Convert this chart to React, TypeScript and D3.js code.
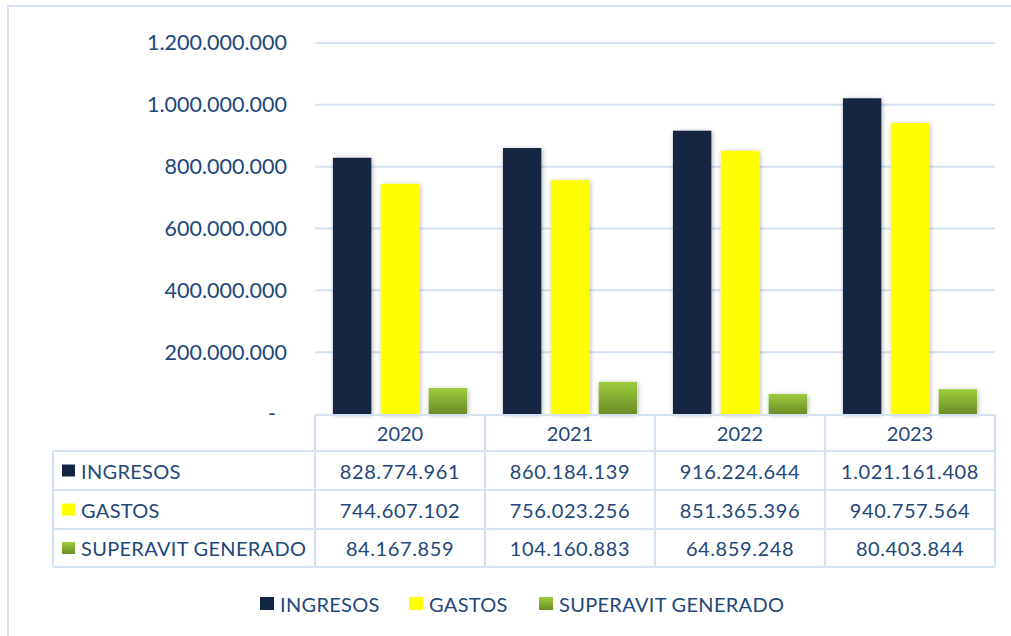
import { useEffect, useRef } from 'react'
import * as d3 from 'd3'

const years = ['2020', '2021', '2022', '2023']
const seriesNames = ['INGRESOS', 'GASTOS', 'SUPERAVIT GENERADO']
const ingresos = [828774961, 860184139, 916224644, 1021161408]
const gastos = [744607102, 756023256, 851365396, 940757564]
const superavit = [84167859, 104160883, 64859248, 80403844]
const yTicks = [0, 200000000, 400000000, 600000000, 800000000, 1000000000, 1200000000]

const W = 1011
const H = 636
const FONT = 'Lato, "Open Sans", sans-serif'
const TEXT = '#23477a'
const GRID = '#d5e2f2'

const fmt = d3.formatLocale({ decimal: ',', thousands: '.', grouping: [3], currency: ['', ''] }).format(',d')

export default function App() {
  const ref = useRef<SVGSVGElement>(null)

  useEffect(() => {
    const el = ref.current
    if (!el) return
    const svg = d3.select(el)
    svg.selectAll('*').remove()

    const series = [ingresos, gastos, superavit]

    const left = 315
    const right = 995
    const top = 43
    const base = 414

    const x = d3.scaleBand<string>().domain(years).range([left, right])
    const xs = d3.scaleBand<string>().domain(seriesNames).range([0, x.bandwidth()])
      .paddingInner(0.198).paddingOuter(0.375)
    const y = d3.scaleLinear().domain([0, 1200000000]).range([base, top])

    // defs
    const defs = svg.append('defs')
    const grad = defs.append('linearGradient').attr('id', 'green').attr('x1', 0).attr('y1', 0).attr('x2', 0).attr('y2', 1)
    grad.append('stop').attr('offset', '0%').attr('stop-color', '#9fcd3e')
    grad.append('stop').attr('offset', '100%').attr('stop-color', '#6b8c25')
    const sh = defs.append('filter').attr('id', 'shadow').attr('x', '-30%').attr('y', '-10%').attr('width', '160%').attr('height', '130%')
    sh.append('feDropShadow').attr('dx', 1).attr('dy', 1).attr('stdDeviation', 2.5)
      .attr('flood-color', '#000').attr('flood-opacity', 0.3)

    const colors = ['#122641', '#ffff00', 'url(#green)']

    // outer border
    svg.append('rect').attr('x', 8).attr('y', 6).attr('width', W).attr('height', H)
      .attr('fill', 'none').attr('stroke', GRID).attr('stroke-width', 2)

    // grid
    svg.append('g').selectAll('line').data(yTicks.filter(d => d > 0)).join('line')
      .attr('x1', left).attr('x2', right)
      .attr('y1', d => y(d)).attr('y2', d => y(d))
      .attr('stroke', GRID).attr('stroke-width', 2)

    // y axis
    const yAxis = svg.append('g').attr('transform', `translate(${left},0)`)
      .call(d3.axisLeft(y).tickValues(yTicks).tickSize(0).tickPadding(28)
        .tickFormat(d => (+d === 0 ? '-' : fmt(+d))))
    yAxis.select('.domain').remove()
    yAxis.selectAll('text').attr('fill', TEXT).attr('font-family', FONT).attr('font-size', 21.5)
      .attr('dx', (d: any) => (+d === 0 ? -11 : 0))

    // bars
    series.forEach((vals, si) => {
      svg.append('g').selectAll('rect').data(vals).join('rect')
        .attr('x', (_, i) => (x(years[i]) as number) + (xs(seriesNames[si]) as number))
        .attr('width', xs.bandwidth())
        .attr('y', d => y(d))
        .attr('height', d => base - y(d))
        .attr('fill', colors[si])
        .attr('filter', 'url(#shadow)')
    })

    // table
    const rowY = [415, 451, 490, 529, 567]
    const tableLeft = 53
    const tg = svg.append('g').attr('stroke', GRID).attr('stroke-width', 2).attr('fill', 'none')
    tg.append('line').attr('x1', left).attr('x2', right).attr('y1', rowY[0]).attr('y2', rowY[0])
    rowY.slice(1).forEach(ry => {
      tg.append('line').attr('x1', tableLeft).attr('x2', right).attr('y1', ry).attr('y2', ry)
    })
    tg.append('line').attr('x1', tableLeft).attr('x2', tableLeft).attr('y1', rowY[1]).attr('y2', rowY[4])
    years.forEach(yr => {
      const xx = x(yr) as number
      tg.append('line').attr('x1', xx).attr('x2', xx).attr('y1', rowY[0]).attr('y2', rowY[4])
    })
    tg.append('line').attr('x1', right).attr('x2', right).attr('y1', rowY[0]).attr('y2', rowY[4])

    const txt = svg.append('g').attr('fill', TEXT).attr('font-family', FONT).attr('font-size', 20)
    txt.selectAll('text.hdr').data(years).join('text').attr('class', 'hdr')
      .attr('x', d => (x(d) as number) + x.bandwidth() / 2)
      .attr('y', (rowY[0] + rowY[1]) / 2)
      .attr('text-anchor', 'middle').attr('dominant-baseline', 'central')
      .text(d => d)
    series.forEach((vals, si) => {
      const cy = (rowY[si + 1] + rowY[si + 2]) / 2
      svg.append('rect').attr('x', 62).attr('y', cy - 6).attr('width', 13).attr('height', 12).attr('fill', colors[si])
      txt.append('text').attr('x', 81).attr('y', cy).attr('dominant-baseline', 'central')
        .attr('letter-spacing', 0.3).text(seriesNames[si])
      txt.selectAll(`text.v${si}`).data(vals).join('text').attr('class', `v${si}`)
        .attr('x', (_, i) => (x(years[i]) as number) + x.bandwidth() / 2)
        .attr('y', cy)
        .attr('text-anchor', 'middle').attr('dominant-baseline', 'central')
        .attr('letter-spacing', 0.6)
        .text(d => fmt(d))
    })

    // legend
    const legendX = [260, 409, 539]
    const ly = 604
    seriesNames.forEach((name, si) => {
      svg.append('rect').attr('x', legendX[si]).attr('y', ly - 7).attr('width', 14).attr('height', 13).attr('fill', colors[si])
      txt.append('text').attr('x', legendX[si] + 20).attr('y', ly).attr('dominant-baseline', 'central')
        .attr('letter-spacing', 0.3).text(name)
    })
  }, [])

  return (
    <div style={{ position: 'fixed', left: 0, top: 0, background: '#fff' }}>
      <svg ref={ref} width={W} height={H} style={{ display: 'block' }}></svg>
    </div>
  )
}
